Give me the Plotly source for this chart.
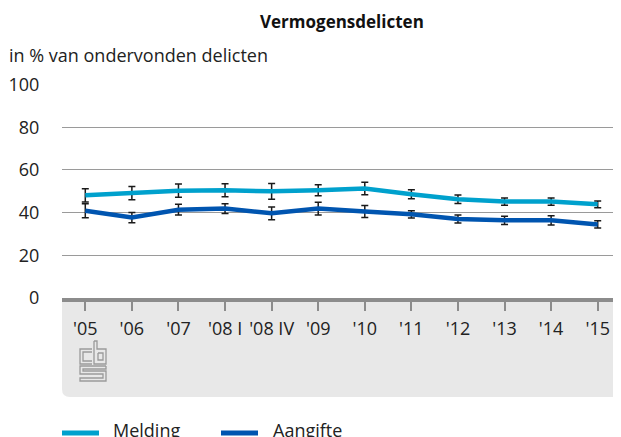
import plotly.graph_objects as go

categories = ["'05", "'06", "'07", "'08 I", "'08 IV", "'09", "'10", "'11", "'12", "'13", "'14", "'15"]
melding = [48.1, 49.2, 50.3, 50.5, 50.0, 50.5, 51.3, 48.6, 46.3, 45.2, 45.2, 43.9]
melding_err = [3.1, 3.1, 3.1, 3.0, 3.7, 2.6, 2.9, 2.1, 2.0, 1.7, 1.7, 1.6]
aangifte = [40.9, 37.7, 41.4, 41.9, 39.7, 41.9, 40.5, 39.2, 37.0, 36.4, 36.4, 34.5]
aangifte_err = [3.3, 2.4, 2.5, 2.3, 3.0, 3.0, 2.8, 1.7, 1.9, 1.9, 2.2, 1.7]
y_ticks = [0, 20, 40, 60, 80, 100]

C_MELD = "#00a1cd"
C_AANG = "#0055b0"
FONT = "Open Sans"

# page body has an 8px margin; work in page pixels and offset
OFF = 8
W, H = 621 - OFF, 437 - OFF
L, R, T = 62 - OFF, 0, 84 - OFF
PLOT_BOTTOM = 298 - OFF
B = H - PLOT_BOTTOM
PW, PH = W - L - R, H - T - B


def px(x):
    return (x - OFF - L) / PW


def py(y):
    return (PLOT_BOTTOM - (y - OFF)) / PH


fig = go.Figure()
for name, vals, errs, col in [("Melding", melding, melding_err, C_MELD),
                              ("Aangifte", aangifte, aangifte_err, C_AANG)]:
    fig.add_trace(go.Scatter(
        x=categories, y=vals, name=name, mode="lines",
        line=dict(color=col, width=4.5),
        error_y=dict(type="data", array=errs, visible=True, color="#1a1a1a",
                     thickness=1.5, width=3.5),
        showlegend=False,
    ))

shapes = []
# grey band below the axis
bot = py(397)
rx, ry = 8 / PW, 8 / PH
shapes.append(dict(type="path", xref="paper", yref="paper", layer="below",
                   path=f"M 0,0 L 1,0 L 1,{bot} L {rx},{bot} Q 0,{bot} 0,{bot+ry} Z",
                   fillcolor="#e8e8e8", line=dict(width=0)))

# CBS logo (decorative)
lg = "#9a9a9a"
def P(points):
    return "M " + " L ".join(f"{px(a)},{py(b)}" for a, b in points)
logo_paths = [
    [(92, 349), (80, 349), (80, 364), (92, 364)],
    [(92, 352), (83, 352), (83, 361), (92, 361)],
    [(94, 341), (94, 364), (106, 364), (106, 349), (97, 349), (97, 341), (94, 341)],
    [(98, 353), (103, 353), (103, 360), (98, 360), (98, 353)],
    [(106, 366), (80, 366), (80, 374), (103, 374), (103, 378), (80, 378), (80, 381),
     (106, 381), (106, 371), (83, 371), (83, 369), (106, 369), (106, 366)],
]
for pts in logo_paths:
    shapes.append(dict(type="path", xref="paper", yref="paper", layer="above",
                       path=P(pts), line=dict(color=lg, width=1.3)))

# legend (manual)
leg_y = py(433)
shapes.append(dict(type="line", xref="paper", yref="paper", x0=px(62), x1=px(99),
                   y0=leg_y, y1=leg_y, line=dict(color=C_MELD, width=5)))
shapes.append(dict(type="line", xref="paper", yref="paper", x0=px(221), x1=px(258),
                   y0=leg_y, y1=leg_y, line=dict(color=C_AANG, width=5)))

annotations = [
    dict(text="<b>Vermogensdelicten</b>", xref="paper", yref="paper", x=0.5, y=py(21),
         showarrow=False, xanchor="center", yanchor="middle",
         font=dict(family=FONT, size=17, color="#111")),
    dict(text="in % van ondervonden delicten", xref="paper", yref="paper", x=px(7), y=py(55),
         showarrow=False, xanchor="left", yanchor="middle",
         font=dict(family=FONT, size=18, color="#222")),
    dict(text="Melding", xref="paper", yref="paper", x=px(111), y=py(430),
         showarrow=False, xanchor="left", yanchor="middle",
         font=dict(family=FONT, size=18, color="#222")),
    dict(text="Aangifte", xref="paper", yref="paper", x=px(271), y=py(430),
         showarrow=False, xanchor="left", yanchor="middle",
         font=dict(family=FONT, size=18, color="#222")),
]

fig.update_layout(
    width=W, height=H,
    margin=dict(l=L, r=R, t=T, b=B, pad=0),
    paper_bgcolor="white", plot_bgcolor="white",
    font=dict(family=FONT, size=18, color="#222"),
    shapes=shapes, annotations=annotations,
    xaxis=dict(type="category", range=[-0.5, len(categories) - 0.5],
               showgrid=False, showline=True, linecolor="#8c8c8c", linewidth=4,
               ticks="outside", ticklen=9, tickwidth=1.5, tickcolor="#8c8c8c",
               tickfont=dict(family=FONT, size=18, color="#222"),
               ticklabelstandoff=2, fixedrange=True),
    yaxis=dict(range=[0, 100.3], tickvals=y_ticks, showgrid=True, gridcolor="#9a9a9a",
               gridwidth=1, zeroline=False, showline=False,
               ticks="outside", ticklen=18, tickcolor="rgba(0,0,0,0)",
               tickfont=dict(family=FONT, size=18, color="#222"),
               fixedrange=True),
)

fig.write_html("out.html")
